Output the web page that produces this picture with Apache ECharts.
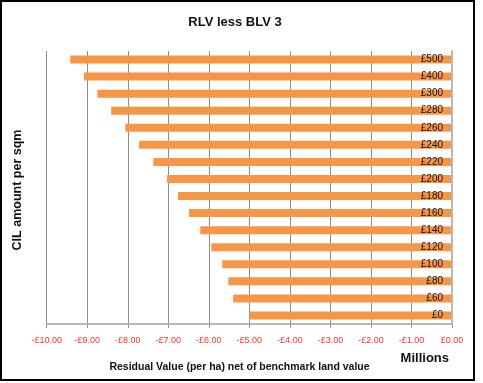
<!DOCTYPE html>
<html>
<head>
<meta charset="utf-8">
<script src="https://cdn.jsdelivr.net/npm/echarts@6/dist/echarts.min.js"></script>
<style>
  html, body { margin: 0; padding: 0; background: #fff; }
  #chart { width: 483px; height: 383px; }
</style>
</head>
<body>
<div id="chart"></div>
<script>
// CIL rate per sqm, bottom to top
const categories = ['£0', '£60', '£80', '£100', '£120', '£140', '£160', '£180',
                    '£200', '£220', '£240', '£260', '£280', '£300', '£400', '£500'];
// Residual value net of benchmark land value, £ millions per ha
const residualValues = [-5.00, -5.40, -5.52, -5.67, -5.94, -6.21, -6.49, -6.76,
                        -7.03, -7.37, -7.72, -8.06, -8.41, -8.75, -9.08, -9.42];
const xMin = -10, xMax = 0, xStep = 1;

const FONT = '"Liberation Sans", Arial, sans-serif';

const chart = echarts.init(document.getElementById('chart'), null, { renderer: 'canvas' });

chart.setOption({
  animation: false,
  backgroundColor: '#ffffff',
  grid: { left: 46.7, right: 31, top: 51, bottom: 59, containLabel: false },
  xAxis: {
    type: 'value',
    min: xMin, max: xMax, interval: xStep,
    axisLine: { show: true, lineStyle: { color: '#b8b8b8', width: 2 } },
    axisTick: { show: true, length: 4, lineStyle: { color: '#999' } },
    splitLine: { show: true, lineStyle: { color: '#8c8c8c', width: 1 } },
    axisLabel: {
      fontFamily: FONT, fontSize: 9, margin: 12,
      formatter: v => v === 0 ? '£0.00' : '-£' + Math.abs(v).toFixed(2),
      color: v => v === 0 ? '#222' : '#ff3030'
    }
  },
  yAxis: {
    type: 'category',
    data: categories,
    position: 'right',
    z: 5,
    axisLine: { show: true, onZero: false, lineStyle: { color: '#b8b8b8', width: 2 } },
    axisTick: { show: false },
    splitLine: { show: false },
    axisLabel: { inside: true, margin: 9, fontFamily: FONT, fontSize: 10, color: '#111' }
  },
  series: [{
    type: 'bar',
    data: residualValues,
    barCategoryGap: '53%',
    itemStyle: { color: '#f79646' },
    z: 2
  }],
  graphic: [
    {
      type: 'rect', silent: true,
      shape: { x: 1, y: 1, width: 473, height: 379 },
      style: { fill: null, stroke: '#000', lineWidth: 2 }
    },
    {
      type: 'text', x: 235, y: 22,
      style: { text: 'RLV less BLV 3', font: 'bold 13px ' + FONT, fill: '#111',
               textAlign: 'center', textVerticalAlign: 'middle' }
    },
    {
      type: 'text', x: 18, y: 190, rotation: Math.PI / 2,
      style: { text: 'CIL amount per sqm', font: 'bold 12.5px ' + FONT, fill: '#111',
               textAlign: 'center', textVerticalAlign: 'middle' }
    },
    {
      type: 'text', x: 449, y: 358,
      style: { text: 'Millions', font: 'bold 13px ' + FONT, fill: '#111',
               textAlign: 'right', textVerticalAlign: 'middle' }
    },
    {
      type: 'text', x: 239.5, y: 367,
      style: { text: 'Residual Value (per ha) net of benchmark land value',
               font: 'bold 10.5px ' + FONT, fill: '#111',
               textAlign: 'center', textVerticalAlign: 'middle' }
    }
  ]
});
</script>
</body>
</html>
